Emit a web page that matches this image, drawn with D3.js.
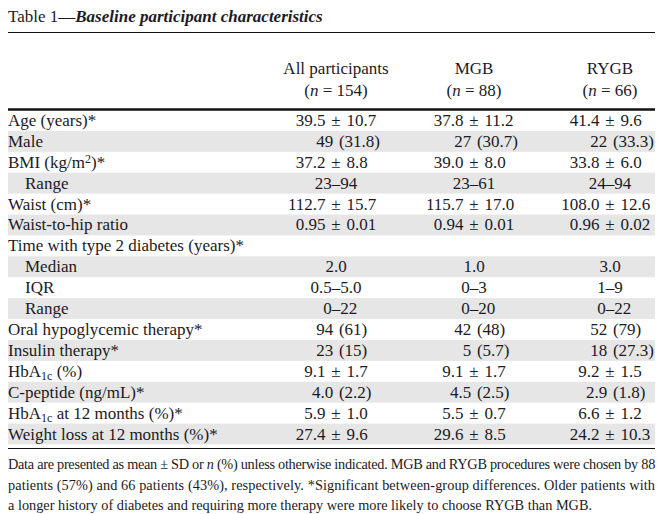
<!DOCTYPE html>
<html>
<head>
<meta charset="utf-8">
<script src="https://cdn.jsdelivr.net/npm/d3@7"></script>
<style>
  body { margin: 0; background: #fff; }
  text { font-family: "Liberation Serif", "Times New Roman", serif; fill: #1c1a24; }
</style>
</head>
<body>
<div id="table"></div>
<script>
// table content
var groups = ["All participants", "MGB", "RYGB"];
var groupN = [154, 88, 66];

var rowLabels = [
  "Age (years)*", "Male", "BMI (kg/m^{2})*", "Range", "Waist (cm)*", "Waist-to-hip ratio",
  "Time with type 2 diabetes (years)*", "Median", "IQR", "Range",
  "Oral hypoglycemic therapy*", "Insulin therapy*", "HbA_{1c} (%)", "C-peptide (ng/mL)*",
  "HbA_{1c} at 12 months (%)*", "Weight loss at 12 months (%)*"
];
var subRows = [3, 7, 8, 9];   // indented rows

var allVals = ["39.5 ± 10.7", "49 (31.8)", "37.2 ± 8.8", "23–94", "112.7 ± 15.7", "0.95 ± 0.01",
  "", "2.0", "0.5–5.0", "0–22", "94 (61)", "23 (15)", "9.1 ± 1.7", "4.0 (2.2)", "5.9 ± 1.0", "27.4 ± 9.6"];
var mgbVals = ["37.8 ± 11.2", "27 (30.7)", "39.0 ± 8.0", "23–61", "115.7 ± 17.0", "0.94 ± 0.01",
  "", "1.0", "0–3", "0–20", "42 (48)", "5 (5.7)", "9.1 ± 1.7", "4.5 (2.5)", "5.5 ± 0.7", "29.6 ± 8.5"];
var rygbVals = ["41.4 ± 9.6", "22 (33.3)", "33.8 ± 6.0", "24–94", "108.0 ± 12.6", "0.96 ± 0.02",
  "", "3.0", "1–9", "0–22", "52 (79)", "18 (27.3)", "9.2 ± 1.5", "2.9 (1.8)", "6.6 ± 1.2", "24.2 ± 10.3"];

var footLines = [
  "Data are presented as mean ± SD or n (%) unless otherwise indicated. MGB and RYGB procedures were chosen by 88",
  "patients (57%) and 66 patients (43%), respectively. *Significant between-group differences. Older patients with",
  "a longer history of diabetes and requiring more therapy were more likely to choose RYGB than MGB."
];

var W = 666, H = 514;
var left = 8, right = 655;

var svg = d3.select("#table").append("svg")
    .attr("width", W)
    .attr("height", H);

// rows
var y = d3.scaleBand().domain(d3.range(rowLabels.length)).range([110, 444.5]).padding(0);
var x = d3.scaleOrdinal().domain(groups).range([336, 474, 610]);

// title
var title = svg.append("text").attr("x", left).attr("y", 22).style("font-size", "17px");
title.append("tspan").text("Table 1—");
title.append("tspan").style("font-weight", "bold").style("font-style", "italic")
    .text("Baseline participant characteristics");

svg.append("line").attr("x1", left).attr("x2", right).attr("y1", 32.5).attr("y2", 32.5)
    .attr("stroke", "#111").attr("stroke-width", 1);

// column headers
groups.forEach(function(g, i) {
    svg.append("text").attr("x", x(g)).attr("y", 74).attr("text-anchor", "middle")
        .style("font-size", "17px").text(g);
    var t = svg.append("text").attr("x", x(g)).attr("y", 96).attr("text-anchor", "middle")
        .style("font-size", "17px");
    t.append("tspan").text("(");
    t.append("tspan").style("font-style", "italic").text("n");
    t.append("tspan").text(" = " + groupN[i] + ")");
});

svg.append("line").attr("x1", left).attr("x2", right).attr("y1", 109.5).attr("y2", 109.5)
    .attr("stroke", "#111").attr("stroke-width", 2.5);

// shaded bands
svg.selectAll(".band")
    .data(d3.range(rowLabels.length).filter(function(i) { return i % 2 == 1; }))
    .enter()
    .append("rect")
    .attr("class", "band")
    .attr("x", left)
    .attr("width", right - left)
    .attr("y", function(d) { return y(d); })
    .attr("height", y.bandwidth())
    .attr("fill", "#e6e6e6");

// label with sub/superscripts written as _{..} and ^{..}
function richText(sel, str) {
    var parts = str.split(/(_\{[^}]*\}|\^\{[^}]*\})/);
    parts.forEach(function(p) {
        if (!p) return;
        if (p[0] == "_") {
            sel.append("tspan").attr("baseline-shift", "-25%").style("font-size", "12px").text(p.slice(2, -1));
        } else if (p[0] == "^") {
            sel.append("tspan").attr("baseline-shift", "40%").style("font-size", "12px").text(p.slice(2, -1));
        } else {
            sel.append("tspan").text(p);
        }
    });
}

var rows = svg.selectAll(".row")
    .data(rowLabels)
    .enter()
    .append("g")
    .attr("class", "row")
    .attr("transform", function(d, i) { return "translate(0," + (y(i) + y.bandwidth() / 2 + 5.5) + ")"; });

rows.append("text")
    .attr("x", function(d, i) { return subRows.indexOf(i) >= 0 ? 25 : left; })
    .style("font-size", "17px")
    .each(function(d) { richText(d3.select(this), d); });

// values: centre each cell on its separator (±, space before "(", dash)
function placeValue(node, anchor) {
    var s = node.textContent;
    var idx, len;
    if (!s.length) return;
    if (s.indexOf("±") >= 0) { idx = s.indexOf("±"); len = 1; }
    else if (s.indexOf(" (") >= 0) { idx = s.indexOf(" ("); len = 1; }
    else if (s.indexOf("–") >= 0) { idx = s.indexOf("–"); len = 1; }
    else { idx = 0; len = s.length; }
    var pre = idx > 0 ? node.getSubStringLength(0, idx) : 0;
    var sep = node.getSubStringLength(idx, len);
    node.setAttribute("x", anchor - pre - sep / 2);
}

[allVals, mgbVals, rygbVals].forEach(function(vals, c) {
    rows.append("text")
        .style("font-size", "17px")
        .style("word-spacing", "1.5px")
        .text(function(d, i) { return vals[i]; })
        .each(function() { placeValue(this, x(groups[c])); });
});

svg.append("line").attr("x1", left).attr("x2", right).attr("y1", 448.5).attr("y2", 448.5)
    .attr("stroke", "#111").attr("stroke-width", 1);

// footnote (first two lines squeezed to full width)
svg.selectAll(".foot")
    .data(footLines)
    .enter()
    .append("text")
    .attr("class", "foot")
    .attr("x", left)
    .attr("y", function(d, i) { return 469 + i * 20.5; })
    .style("font-size", "14.3px")
    .each(function(d, i) {
        var t = d3.select(this);
        if (d.indexOf(" n (%)") >= 0) {
            var k = d.indexOf(" n (%)");
            t.append("tspan").text(d.slice(0, k + 1));
            t.append("tspan").style("font-style", "italic").text("n");
            t.append("tspan").text(d.slice(k + 2));
        } else {
            t.text(d);
        }
        if (i < 2) {
            var w = this.getComputedTextLength();
            var ls = (right - left - w) / d.length;
            t.style("letter-spacing", ls + "px");
        }
    });
</script>
</body>
</html>
